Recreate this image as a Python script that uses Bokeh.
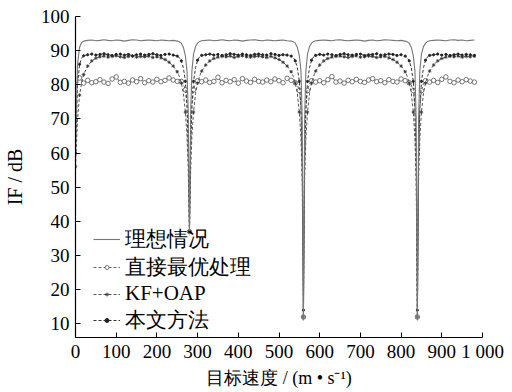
from bokeh.plotting import figure
from bokeh.models import Range1d, FixedTicker, Legend, LegendItem, ColumnDataSource
from bokeh.embed import file_html
from bokeh.resources import INLINE

# ---------------- data ----------------
x_speed = [0, 5, 10, 15, 20, 30, 40, 50, 60, 70, 80, 90, 100, 110, 120, 130, 140, 150, 160, 170, 180, 190, 200, 210, 220, 230, 240, 250,
           255, 260, 265, 270, 274, 277, 280, 283, 286, 290, 295, 300, 305, 310,
           320, 330, 340, 350, 360, 370, 380, 390, 400, 410, 420, 430, 440, 450, 460, 470, 480, 490, 500, 510, 520, 530,
           535, 540, 545, 550, 554, 557, 560, 563, 566, 570, 575, 580, 585, 590,
           600, 610, 620, 630, 640, 650, 660, 670, 680, 690, 700, 710, 720, 730, 740, 750, 760, 770, 780, 790, 800, 810,
           815, 820, 825, 830, 834, 837, 840, 843, 846, 850, 855, 860, 865, 870,
           880, 890, 900, 910, 920, 930, 940, 950, 960, 970, 980]

ideal = [62, 86, 91, 92.4, 92.8, 93.0, 93.1, 92.9, 93.0, 93.2, 93.0, 92.9, 93.1, 93.0, 92.8, 93.0, 93.2, 93.1, 92.9, 93.0, 93.1, 93.0, 92.9, 93.1, 93.0, 92.9, 93.0, 92.8,
         92.6, 92.2, 91.0, 88.5, 84, 72, 37, 72, 84, 89, 91.2, 92.2, 92.7, 92.9,
         93.0, 93.1, 92.9, 93.0, 93.2, 93.0, 92.9, 93.1, 93.0, 92.8, 93.0, 93.1, 93.2, 93.0, 92.9, 93.1, 93.0, 92.9, 93.0, 93.1, 92.9, 92.8,
         92.6, 92.2, 91.0, 88.5, 84, 70, 11, 70, 84, 89, 91.2, 92.2, 92.7, 92.9,
         93.0, 93.1, 93.0, 92.9, 93.1, 93.2, 93.0, 92.9, 93.0, 93.1, 93.0, 92.8, 93.0, 93.1, 92.9, 93.0, 93.2, 93.1, 93.0, 92.9, 93.0, 92.8,
         92.6, 92.2, 91.0, 88.5, 84, 70, 11, 70, 84, 89, 91.2, 92.2, 92.7, 92.9,
         93.0, 93.1, 93.0, 92.9, 93.1, 93.2, 93.0, 93.1, 92.9, 93.0, 93.1]

direct_opt = [80, 81.5, 82, 81.2, 80.5, 81.3, 80.6, 80.9, 81.5, 80.8, 80.4, 81.7, 82.3, 80.7, 81.0, 80.5, 81.4, 80.9, 81.8, 80.6, 81.2, 80.8, 81.6, 80.9, 81.3, 82.0, 81.4, 81.0,
              81.5, 81.0, 80.2, 78.5, 74, 62, 37, 62, 74, 78.5, 80.5, 81.2, 81.6, 80.9,
              81.4, 80.7, 81.0, 82.2, 80.6, 81.3, 80.9, 81.5, 80.5, 81.8, 81.1, 80.7, 81.6, 81.0, 80.8, 81.4, 80.9, 81.7, 81.2, 80.6, 81.9, 81.3,
              81.0, 80.6, 80.0, 78.3, 73.5, 60, 12, 60, 73.5, 78.3, 80.4, 81.2, 81.5, 80.8,
              81.2, 80.6, 81.5, 82.4, 80.8, 81.1, 80.5, 81.3, 80.9, 81.6, 81.0, 80.7, 81.4, 81.8, 80.9, 81.2, 80.6, 81.5, 81.0, 80.8, 81.7, 81.2,
              81.0, 80.6, 80.0, 78.3, 73.5, 60, 12, 60, 73.5, 78.3, 80.4, 81.2, 81.5, 80.8,
              81.3, 80.7, 81.6, 82.3, 81.0, 80.6, 81.4, 80.9, 81.5, 81.1, 80.8]

kf_oap = [56, 70, 77, 80.5, 83, 85.5, 87, 87.8, 88.2, 88.4, 88.1, 88.3, 88.5, 88.2, 88.0, 88.3, 88.4, 88.1, 88.3, 88.2, 88.4, 88.0, 88.2, 87.9, 87.4, 86.6, 85.5, 83.8,
          82.5, 80.5, 77.5, 72, 65, 55, 37, 55, 65, 72, 77.5, 80.5, 82.5, 84,
          85.8, 87.0, 87.7, 88.1, 88.3, 88.2, 88.4, 88.0, 88.3, 88.5, 88.2, 88.1, 88.3, 88.4, 88.2, 88.0, 88.3, 87.9, 87.4, 86.6, 85.5, 83.8,
          82.5, 80.5, 77.5, 72, 64, 52, 12, 52, 64, 72, 77.5, 80.5, 82.5, 84,
          85.8, 87.0, 87.7, 88.1, 88.3, 88.4, 88.2, 88.0, 88.3, 88.5, 88.1, 88.2, 88.4, 88.3, 88.0, 88.2, 88.3, 87.9, 87.4, 86.6, 85.5, 83.8,
          82.5, 80.5, 77.5, 72, 64, 52, 12, 52, 64, 72, 77.5, 80.5, 82.5, 84,
          85.8, 87.0, 87.7, 88.1, 88.3, 88.2, 88.4, 88.1, 88.3, 88.2, 88.4]

proposed = [60, 80, 86, 87.8, 88.5, 88.8, 89.0, 88.7, 88.9, 89.1, 88.8, 88.6, 88.9, 89.0, 88.7, 88.9, 88.5, 88.8, 89.0, 88.7, 88.9, 89.1, 88.8, 88.6, 88.9, 89.0, 88.7, 88.4,
            88.0, 87.0, 85.0, 81, 74, 62, 37, 62, 74, 81, 85, 87.2, 88.2, 88.6,
            88.8, 89.0, 88.7, 88.9, 88.6, 88.8, 89.1, 88.9, 88.7, 89.0, 88.8, 88.6, 88.9, 89.0, 88.8, 88.7, 89.1, 88.9, 88.6, 88.8, 88.7, 88.4,
            88.0, 87.0, 85.0, 81, 73, 58, 14, 58, 73, 81, 85, 87.2, 88.2, 88.6,
            88.9, 88.7, 89.0, 88.8, 88.6, 88.9, 89.1, 88.8, 88.7, 88.9, 89.0, 88.6, 88.8, 88.9, 89.1, 88.7, 88.8, 89.0, 88.9, 88.6, 88.8, 88.4,
            88.0, 87.0, 85.0, 81, 73, 58, 14, 58, 73, 81, 85, 87.2, 88.2, 88.6,
            88.8, 89.0, 88.7, 88.9, 88.6, 88.8, 89.0, 88.7, 88.9, 88.8, 88.6]

labels = ["理想情况", "直接最优处理", "KF+OAP", "本文方法"]
x_ticks = [0, 100, 200, 300, 400, 500, 600, 700, 800, 900, 1000]
y_ticks = [10, 20, 30, 40, 50, 60, 70, 80, 90, 100]

for s in (ideal, direct_opt, kf_oap, proposed):
    assert len(s) == len(x_speed), len(s)

src = ColumnDataSource(dict(x=x_speed, ideal=ideal, direct=direct_opt, kf=kf_oap, prop=proposed))
# markers are placed on the regular 10 m/s grid only
keep = [i for i, v in enumerate(x_speed) if v % 10 == 0]
msrc = ColumnDataSource(dict(x=[x_speed[i] for i in keep],
                             direct=[direct_opt[i] for i in keep],
                             kf=[kf_oap[i] for i in keep],
                             prop=[proposed[i] for i in keep]))

SERIF = "Liberation Serif"

p = figure(width=512, height=392, output_backend="svg", toolbar_location=None,
           x_range=Range1d(0, 1000), y_range=Range1d(6, 100),
           min_border_left=75, min_border_right=30, min_border_top=16, min_border_bottom=55)
p.outline_line_color = None
p.grid.visible = False
p.background_fill_color = "white"
p.border_fill_color = "white"

# series
r_direct_l = p.line("x", "direct", source=src, line_color="#666666", line_width=1, line_dash="3 2")
r_direct_m = p.scatter("x", "direct", source=msrc, marker="circle", size=4.5, fill_color="white",
                       line_color="#555555", line_width=0.8)
r_kf_l = p.line("x", "kf", source=src, line_color="#555555", line_width=1, line_dash="3 2")
r_kf_m = p.scatter("x", "kf", source=msrc, marker="asterisk", size=3.5, line_color="#333333", line_width=0.8)
r_prop_l = p.line("x", "prop", source=src, line_color="#333333", line_width=1, line_dash="3 2")
r_prop_m = p.scatter("x", "prop", source=msrc, marker="circle", size=2.2, fill_color="#222222",
                     line_color="#222222")
r_ideal = p.line("x", "ideal", source=src, line_color="#777777", line_width=1.1)

# axes
for ax in (p.xaxis[0], p.yaxis[0]):
    ax.axis_line_color = "black"
    ax.axis_line_width = 1.2
    ax.major_tick_in = 5
    ax.major_tick_out = 0
    ax.minor_tick_line_color = None
    ax.major_tick_line_color = "black"
    ax.major_label_text_font = SERIF
    ax.major_label_text_font_size = "19px"
    ax.major_label_text_color = "black"
    ax.axis_label_text_font = SERIF
    ax.axis_label_text_font_style = "normal"
    ax.axis_label_text_color = "black"

p.xaxis.ticker = FixedTicker(ticks=x_ticks)
p.yaxis.ticker = FixedTicker(ticks=y_ticks)
p.xaxis.major_label_overrides = {1000: "1 000"}
p.xaxis.axis_label = "目标速度 / (m • s⁻¹)"
p.yaxis.axis_label = "IF / dB"
p.xaxis.axis_label_text_font_size = "18px"
p.yaxis.axis_label_text_font_size = "20px"
p.xaxis.major_label_standoff = 3
p.yaxis.major_label_standoff = 6
p.xaxis.axis_label_standoff = 3
p.yaxis.axis_label_standoff = 12

legend = Legend(items=[
    LegendItem(label=labels[0], renderers=[r_ideal]),
    LegendItem(label=labels[1], renderers=[r_direct_l, r_direct_m]),
    LegendItem(label=labels[2], renderers=[r_kf_l, r_kf_m]),
    LegendItem(label=labels[3], renderers=[r_prop_l, r_prop_m]),
], location=(18, 3))
legend.label_text_font = SERIF
legend.label_text_font_size = "21px"
legend.label_text_color = "black"
legend.glyph_width = 27
legend.glyph_height = 10
legend.label_height = 20
legend.label_standoff = 5
legend.spacing = -7
legend.padding = 0
legend.margin = 0
legend.background_fill_alpha = 0
legend.border_line_alpha = 0
p.add_layout(legend)

open("out.html", "w").write(file_html(p, INLINE))
